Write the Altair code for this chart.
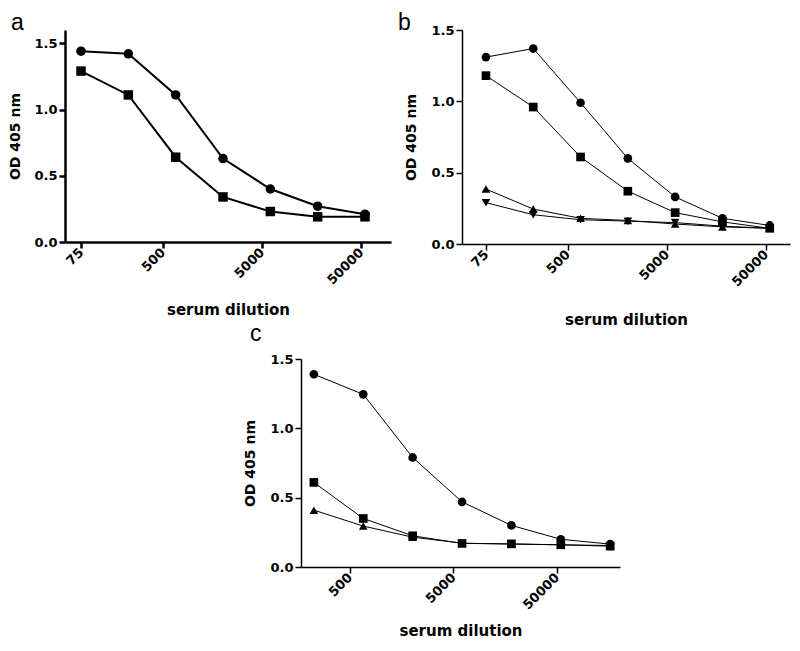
import altair as alt
import pandas as pd

# ---- data ----
dil_ab = [75, 225, 675, 2025, 6075, 18225, 54675]
dil_c = [225, 675, 2025, 6075, 18225, 54675, 164025]

a_circle = [1.44, 1.42, 1.11, 0.63, 0.40, 0.27, 0.21]
a_square = [1.29, 1.11, 0.64, 0.34, 0.23, 0.19, 0.19]

b_circle = [1.31, 1.37, 0.99, 0.60, 0.33, 0.18, 0.13]
b_square = [1.18, 0.96, 0.61, 0.37, 0.22, 0.155, 0.11]
b_triup = [0.385, 0.245, 0.18, 0.165, 0.14, 0.12, 0.11]
b_tridown = [0.29, 0.205, 0.17, 0.16, 0.15, 0.125, 0.11]

c_circle = [1.39, 1.245, 0.79, 0.47, 0.30, 0.20, 0.165]
c_square = [0.61, 0.35, 0.225, 0.17, 0.167, 0.16, 0.15]
c_triup = [0.41, 0.295, 0.215, 0.172, 0.165, 0.16, 0.155]

panel_labels = ["a", "b", "c"]
ticks_ab = [75, 500, 5000, 50000]
ticks_c = [500, 5000, 50000]
y_ticks = [0.0, 0.5, 1.0, 1.5]

SHAPES = ["circle", "square", "triangle-up", "triangle-down"]
FONT = "DejaVu Sans"
LFONT = "Liberation Sans"


def panel(series, dil, xdom, ydom, xvals, w, h, lw, aw, msize, label,
          lx, ly, ytpad, xtpad):
    rows = []
    for shape, vals in series:
        for d, v in zip(dil, vals):
            rows.append({"dilution": d, "od": v, "series": shape})
    df = pd.DataFrame(rows)

    xaxis = alt.Axis(values=xvals, format="d", labelAngle=315, labelAlign="right",
                     labelBaseline="middle", labelFont=FONT, labelFontWeight="bold",
                     labelFontSize=13, labelColor="black", labelFlush=False,
                     labelOverlap=False, labelPadding=2, tickSize=6, tickWidth=aw,
                     tickColor="black", domainColor="black", domainWidth=aw, grid=False,
                     title="serum dilution", titleFont=FONT, titleFontWeight="bold",
                     titleFontSize=15, titleColor="black", titlePadding=xtpad)
    yaxis = alt.Axis(values=y_ticks, format=".1f", labelFont=FONT, labelFontWeight="bold",
                     labelFontSize=13, labelColor="black", labelPadding=2, tickSize=6,
                     tickWidth=aw, tickColor="black", domainColor="black", domainWidth=aw,
                     grid=False, title="OD 405 nm", titleFont=FONT,
                     titleFontWeight="bold", titleFontSize=14, titleColor="black",
                     titlePadding=ytpad)
    x = alt.X("dilution:Q", scale=alt.Scale(type="log", domain=xdom, nice=False),
              axis=xaxis)
    y = alt.Y("od:Q", scale=alt.Scale(domain=ydom, nice=False, zero=True), axis=yaxis)

    base = alt.Chart(df)
    lines = base.mark_line(color="black", strokeWidth=lw).encode(
        x=x, y=y, detail="series:N", order="dilution:Q")
    pts = base.mark_point(filled=True, opacity=1, color="black", size=msize).encode(
        x=x, y=y,
        shape=alt.Shape("series:N", scale=alt.Scale(domain=SHAPES, range=SHAPES),
                        legend=None))
    tag = alt.Chart(pd.DataFrame({"t": [label]})).mark_text(
        font=LFONT, fontSize=23, align="left", baseline="alphabetic", color="black"
    ).encode(text="t:N", x=alt.value(lx), y=alt.value(ly))
    return alt.layer(lines, pts, tag).properties(width=w, height=h)


A = panel([("circle", a_circle), ("square", a_square)], dil_ab,
          [51.7, 100000], [0, 1.6], ticks_ab, 326, 212, 2, 2.5, 90, panel_labels[0],
          -54, 0, 11, 16)
B = panel([("circle", b_circle), ("square", b_square),
           ("triangle-up", b_triup), ("triangle-down", b_tridown)], dil_ab,
          [43, 87500], [0, 1.5], ticks_ab, 328, 214, 1, 1.5, 75, panel_labels[1],
          -64, 0, 12, 24)
C = panel([("circle", c_circle), ("square", c_square),
           ("triangle-up", c_triup)], dil_c,
          [169, 204000], [0, 1.5], ticks_c, 319, 208, 1, 1.5, 75, panel_labels[2],
          -51, -18, 12, 12)

spacer = alt.Chart(pd.DataFrame({"v": [0]})).mark_point(opacity=0).encode(
    x=alt.value(0), y=alt.value(0)).properties(width=177, height=10)

chart = alt.vconcat(
    alt.hconcat(A, B, spacing=5),
    alt.hconcat(spacer, C, spacing=0),
    spacing=-7,
).properties(padding={"top": 3, "left": 0, "right": 0, "bottom": 0},
             background="white").configure_view(stroke="transparent")

chart.save("out.html", embed_options={"renderer": "svg", "actions": False})
